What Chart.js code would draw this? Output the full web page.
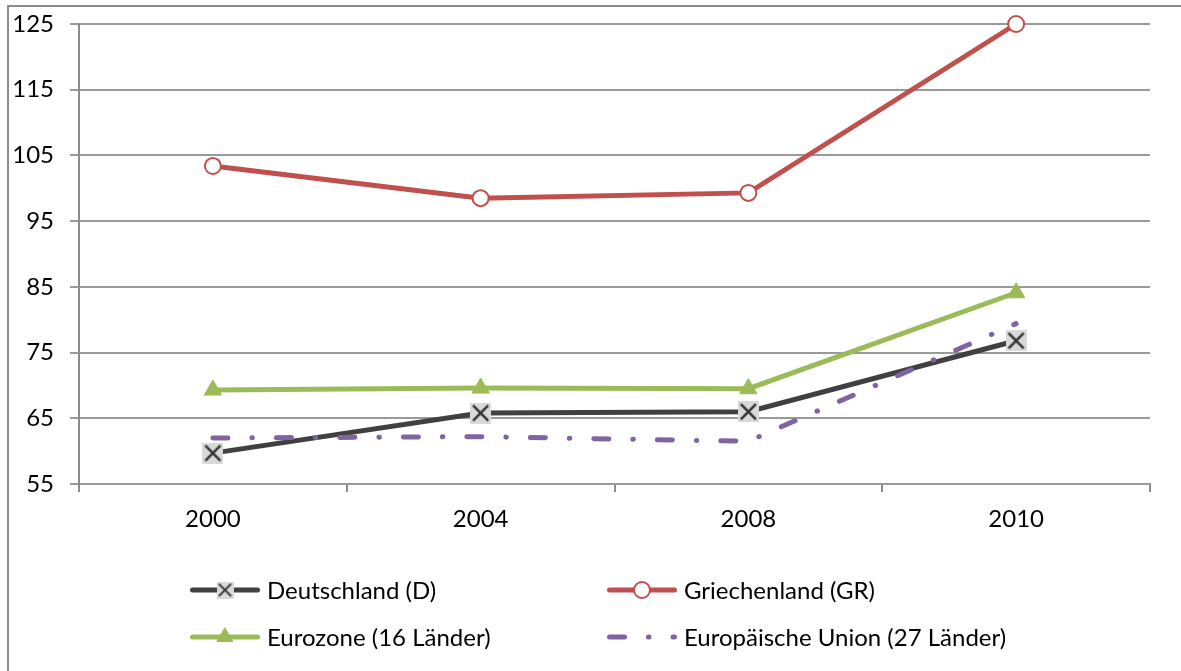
<!DOCTYPE html>
<html>
<head>
<meta charset="utf-8">
<script src="https://cdn.jsdelivr.net/npm/chart.js@4"></script>
<style>
  body { margin: 0; background: #fff; }
  #frame { position: absolute; left: 7px; top: 5px; width: 1200px; height: 700px; border: 2px solid #8c8c8c; }
  #wrap { position: absolute; left: 0; top: 0; width: 1181px; height: 671px; }
</style>
</head>
<body>
<div id="frame"></div>
<div id="wrap"><canvas id="chart"></canvas></div>
<script>
// data
var years = ['2000', '2004', '2008', '2010'];
var deutschland = [59.7, 65.8, 66.0, 76.8];
var griechenland = [103.4, 98.5, 99.3, 125.0];
var eurozone = [69.3, 69.6, 69.5, 84.1];
var eu27 = [62.0, 62.2, 61.5, 79.4];
var series_names = ['Deutschland (D)', 'Griechenland (GR)', 'Eurozone (16 Länder)', 'Europäische Union (27 Länder)'];
var y_min = 55, y_max = 125, y_step = 10;

var font_family = 'Lato';
var font_size = 24;

// grey square with an X, like the excel marker
function make_cross(size, lw) {
  var c = document.createElement('canvas');
  c.width = size; c.height = size;
  var g = c.getContext('2d');
  g.fillStyle = '#d9d9d9';
  g.fillRect(0, 0, size, size);
  g.strokeStyle = '#333333';
  g.lineWidth = lw;
  var p = size * 0.14;
  g.beginPath();
  g.moveTo(p, p); g.lineTo(size - p, size - p);
  g.moveTo(size - p, p); g.lineTo(p, size - p);
  g.stroke();
  return c;
}

var cross_big = make_cross(21, 2.5);
var cross_small = make_cross(17, 2);

//Legend in two columns
var legend_spots = [[190, 590], [607, 590], [190, 637], [607, 637]];

var legend_plugin = {
  id: 'two_col_legend',
  afterDraw: function(chart) {
    var ctx = chart.ctx;
    chart.data.datasets.forEach(function(ds, i) {
      var x = legend_spots[i][0], y = legend_spots[i][1];
      ctx.save();
      ctx.strokeStyle = ds.borderColor;
      ctx.lineWidth = ds.borderWidth;
      ctx.lineCap = 'round';
      ctx.setLineDash(ds.borderDash || []);
      ctx.beginPath();
      ctx.moveTo(x + 2.5, y);
      ctx.lineTo(x + 67.5, y);
      ctx.stroke();
      ctx.setLineDash([]);
      if (ds.pointRadius > 0) {
        var style = ds.legendStyle || ds.pointStyle;
        ctx.fillStyle = ds.pointBackgroundColor;
        ctx.strokeStyle = ds.pointBorderColor;
        ctx.lineWidth = ds.pointBorderWidth;
        Chart.helpers.drawPoint(ctx, {
          pointStyle: style,
          radius: ds.legendRadius || ds.pointRadius,
          rotation: 0,
          borderWidth: ds.pointBorderWidth
        }, x + 35, y);
      }
      ctx.fillStyle = '#000';
      ctx.font = font_size + 'px ' + font_family;
      ctx.textBaseline = 'middle';
      ctx.fillText(ds.label, x + 77, y + 1);
      ctx.restore();
    });
  }
};

var ctx = document.getElementById('chart').getContext('2d');

var chart = new Chart(ctx, {
  type: 'line',
  data: {
    labels: years,
    datasets: [{
      label: series_names[0],
      data: deutschland,
      borderColor: '#404040',
      borderWidth: 5,
      pointStyle: cross_big,
      legendStyle: cross_small,
      pointRadius: 10,
      pointBackgroundColor: '#d9d9d9',
      pointBorderColor: '#404040',
      pointBorderWidth: 1,
      clip: false,
      order: 1
    }, {
      label: series_names[1],
      data: griechenland,
      borderColor: '#c0504d',
      borderWidth: 5,
      pointStyle: 'circle',
      pointRadius: 8,
      pointBackgroundColor: '#ffffff',
      pointBorderColor: '#c0504d',
      pointBorderWidth: 2,
      clip: false,
      order: 1
    }, {
      label: series_names[2],
      data: eurozone,
      borderColor: '#9bbb59',
      borderWidth: 5,
      pointStyle: 'triangle',
      pointRadius: 10,
      legendRadius: 9,
      pointBackgroundColor: '#9bbb59',
      pointBorderColor: '#9bbb59',
      pointBorderWidth: 1,
      clip: false,
      order: 1
    }, {
      label: series_names[3],
      data: eu27,
      borderColor: '#8064a2',
      borderWidth: 5,
      borderDash: [15, 24, 0.5, 24],
      borderCapStyle: 'round',
      pointRadius: 0,
      clip: false,
      order: 0
    }]
  },
  options: {
    responsive: true,
    maintainAspectRatio: false,
    animation: false,
    layout: {
      padding: { top: 24, right: 31, left: 0, bottom: 0 }
    },
    scales: {
      x: {
        offset: true,
        grid: {
          display: true,
          offset: true,
          drawOnChartArea: false,
          tickLength: 8,
          color: '#8c8c8c',
          lineWidth: 2
        },
        border: { display: true, color: '#9a9a9a', width: 2 },
        ticks: {
          color: '#000',
          padding: 13,
          font: { family: font_family, size: font_size }
        },
        afterFit: function(scale) { scale.height = 187; }
      },
      y: {
        min: y_min,
        max: y_max,
        ticks: {
          stepSize: y_step,
          color: '#000',
          padding: 16,
          font: { family: font_family, size: font_size }
        },
        grid: {
          color: '#9a9a9a',
          lineWidth: 2,
          tickLength: 9
        },
        border: { display: true, color: '#8c8c8c', width: 2 },
        afterFit: function(scale) {
          scale.width = 79;
          scale.paddingTop = 0;
          scale.paddingBottom = 0;
        }
      }
    },
    plugins: {
      legend: { display: false },
      tooltip: { enabled: false }
    }
  },
  plugins: [legend_plugin]
});
</script>
</body>
</html>
